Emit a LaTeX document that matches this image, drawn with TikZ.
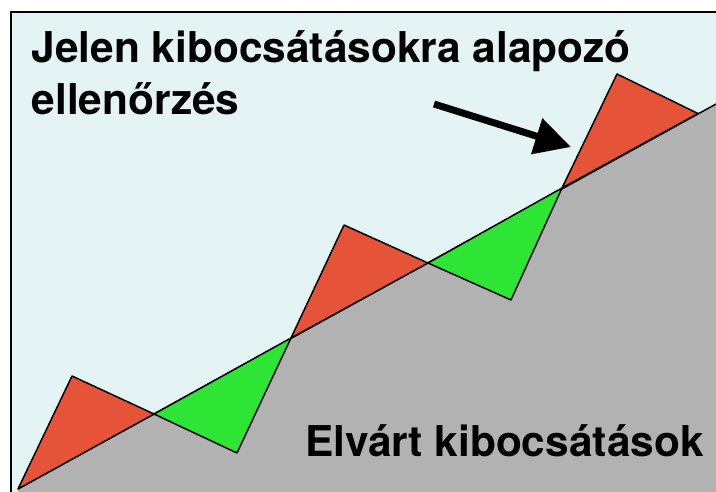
\documentclass[tikz,border=0pt]{standalone}
\usepackage{fontspec}
\setmainfont{TeX Gyre Heros}
\usetikzlibrary{arrows.meta}
\definecolor{bgc}{RGB}{228,243,244}
\definecolor{grayc}{RGB}{178,178,178}
\definecolor{redc}{RGB}{229,83,56}
\definecolor{greenc}{RGB}{46,228,52}
\begin{document}
\begin{tikzpicture}[x=1pt,y=-1pt,
  tri/.style={draw=black,line width=1.5pt,line join=round},
  gapline/.style={draw=white,line width=1pt},
  lbl/.style={font=\fontsize{42.4}{51}\selectfont\bfseries,anchor=base west,inner sep=0pt}]
\useasboundingbox (0,0) rectangle (716,492);
\fill[white] (0,0) rectangle (716,492);
% slope points
\coordinate (a0) at (18,489);
\coordinate (a1) at (154,414);
\coordinate (a2) at (291,338);
\coordinate (a3) at (428,263);
\coordinate (a4) at (562,188);
\coordinate (a5) at (698,113.5);
\coordinate (aend) at (716,104);
% apexes
\coordinate (r1) at (72,376);
\coordinate (g1) at (237,453);
\coordinate (r2) at (344,225);
\coordinate (g2) at (511,300);
\coordinate (r3) at (617,74);
\begin{scope}
\clip (0,0) rectangle (716,492);
\fill[bgc] (11,12) rectangle (740,520);
\fill[grayc] (a0) -- (aend) -- (740,104) -- (740,520) -- (16,520) -- cycle;
\draw[line width=1.5pt] (a0) -- (aend);
\draw[line width=2pt] (11,12) rectangle (740,520);
\end{scope}
% green triangles
\draw[tri,fill=greenc] (a1) -- (a2) -- (g1) -- cycle;
\draw[tri,fill=greenc] (a3) -- (a4) -- (g2) -- cycle;
% white gaps under red triangles
\begin{scope}[shift={(-0.6,-1.1)}]
\draw[gapline] (a0) -- (a1);
\draw[gapline] (a2) -- (a3);
\draw[gapline] (a4) -- (a5);
\end{scope}
% red triangles
\begin{scope}[shift={(-1.2,-2.2)}]
\draw[tri,fill=redc] (a0) -- (r1) -- (a1) -- cycle;
\draw[tri,fill=redc] (a2) -- (r2) -- (a3) -- cycle;
\draw[tri,fill=redc] (a4) -- (r3) -- (a5) -- cycle;
\end{scope}
% texts
\node[lbl] (t1) at (31.5,63) {Jelen kibocsátásokra alapozó};
\node[lbl] (t2) at (31.5,115) {ellenőrzés};
\node[lbl] (t3) at (305,456) {Elvárt kibocsátások};
% arrow
\coordinate (atail) at (434,104);
\coordinate (ahead) at (571,147);
\draw[line width=7pt,-{Triangle[length=36pt,width=36pt]}] (atail) -- (ahead);
\end{tikzpicture}
\end{document}
